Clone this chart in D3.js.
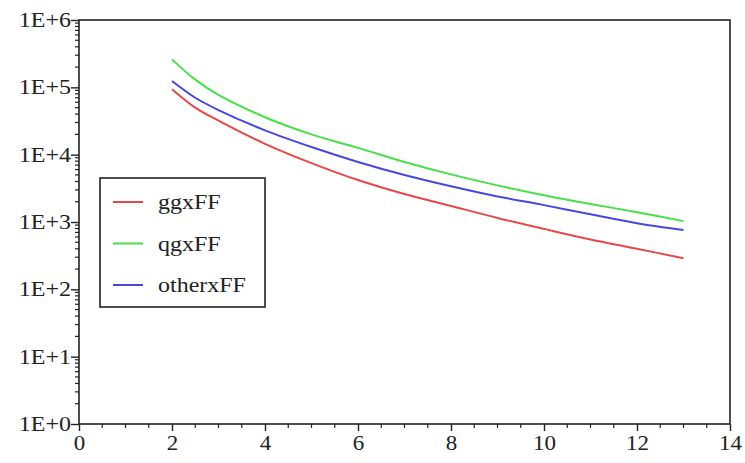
<!DOCTYPE html>
<html>
<head>
<meta charset="utf-8">
<script src="https://cdn.jsdelivr.net/npm/d3@7"></script>
<style>
  body { margin: 0; background: #fff; }
  text { font-family: "Liberation Serif", "Times New Roman", serif; fill: #222; }
</style>
</head>
<body>
<svg id="chart" width="745" height="463"></svg>
<script>
// values
var xValues = [2, 2.5, 3, 4, 5, 6, 7, 8, 9, 10, 11, 12, 13];
var ggxFF    = [9.4e4, 5.0e4, 3.2e4, 1.45e4, 7.5e3, 4.2e3, 2.6e3, 1.73e3, 1.15e3, 7.9e2, 5.5e2, 4.0e2, 2.9e2];
var qgxFF    = [2.6e5, 1.3e5, 7.7e4, 3.6e4, 2.0e4, 1.26e4, 7.8e3, 5.1e3, 3.5e3, 2.5e3, 1.85e3, 1.4e3, 1.03e3];
var otherxFF = [1.24e5, 7.0e4, 4.6e4, 2.3e4, 1.3e4, 7.8e3, 5.0e3, 3.4e3, 2.4e3, 1.78e3, 1.3e3, 9.6e2, 7.6e2];
var seriesNames = ["ggxFF", "qgxFF", "otherxFF"];
var seriesColors = ["#e84848", "#48e048", "#4848e0"];
var yTickLabels = ["1E+0", "1E+1", "1E+2", "1E+3", "1E+4", "1E+5", "1E+6"];
var xTickLabels = [0, 2, 4, 6, 8, 10, 12, 14];

var margin = {top: 20, right: 15, bottom: 39, left: 79};
var svg = d3.select("#chart"),
    width  = svg.attr("width") - margin.left - margin.right,
    height = svg.attr("height") - margin.top - margin.bottom;

var x = d3.scaleLinear().domain([0, 14]).range([0, width]);
var y = d3.scaleLog().domain([1, 1e6]).range([height, 0]);

var g = svg.append("g")
    .attr("transform", "translate(" + margin.left + "," + margin.top + ")");

// frame
g.append("rect")
    .attr("width", width).attr("height", height)
    .attr("fill", "none").attr("stroke", "#222").attr("stroke-width", 1.6);

// minor ticks
var xMinor = d3.range(0, 14.01, 0.5).filter(function(d) { return d % 2 !== 0; });
g.selectAll(".xminor").data(xMinor).enter().append("line")
    .attr("x1", function(d) { return x(d); }).attr("x2", function(d) { return x(d); })
    .attr("y1", height).attr("y2", height + 4)
    .attr("stroke", "#222").attr("stroke-width", 1.2);

var yMinor = [];
for (var e = 0; e < 6; e++) for (var m = 2; m < 10; m++) yMinor.push(m * Math.pow(10, e));
g.selectAll(".yminor").data(yMinor).enter().append("line")
    .attr("x1", -4).attr("x2", 0)
    .attr("y1", function(d) { return y(d); }).attr("y2", function(d) { return y(d); })
    .attr("stroke", "#222").attr("stroke-width", 1.2);

// major axes
var xAxis = g.append("g")
    .attr("transform", "translate(0," + height + ")")
    .call(d3.axisBottom(x).tickValues(xTickLabels).tickSize(7).tickPadding(5).tickFormat(d3.format("d")));
var yAxis = g.append("g")
    .call(d3.axisLeft(y).tickValues(yTickLabels.map(function(d, i) { return Math.pow(10, i); }))
        .tickSize(8).tickPadding(2).tickFormat(function(d, i) { return yTickLabels[i]; }));

[xAxis, yAxis].forEach(function(a) {
    a.select(".domain").remove();
    a.selectAll(".tick line").attr("stroke", "#222").attr("stroke-width", 1.4);
    a.selectAll(".tick text").attr("font-size", 20).attr("fill", "#222")
        .style("font-family", "'Liberation Serif', serif");
});
xAxis.selectAll(".tick text").attr("transform", "scale(1.15,1)")
    .attr("x", 0);
yAxis.selectAll(".tick text")
    .attr("transform", "translate(-8,0) scale(1.2,1)").attr("x", 0);

// series
var series = [ggxFF, qgxFF, otherxFF];
var line = d3.line()
    .x(function(d, i) { return x(xValues[i]); })
    .y(function(d) { return y(d); })
    .curve(d3.curveCatmullRom);

g.selectAll(".series").data(series).enter().append("path")
    .attr("d", line)
    .attr("fill", "none")
    .attr("stroke", function(d, i) { return seriesColors[i]; })
    .attr("stroke-width", 2);

// legend
var legend = g.append("g").attr("transform", "translate(" + (100 - margin.left) + "," + (178 - margin.top) + ")");
legend.append("rect")
    .attr("width", 165).attr("height", 129)
    .attr("fill", "#fff").attr("stroke", "#222").attr("stroke-width", 1.6);
var items = legend.selectAll(".item").data(seriesNames).enter().append("g")
    .attr("transform", function(d, i) { return "translate(0," + (24 + i * 41.5) + ")"; });
items.append("line")
    .attr("x1", 13).attr("x2", 43)
    .attr("stroke", function(d, i) { return seriesColors[i]; })
    .attr("stroke-width", 2);
items.append("text")
    .attr("transform", "translate(58,7) scale(1.2,1)")
    .attr("font-size", 20)
    .text(function(d) { return d; });
</script>
</body>
</html>
